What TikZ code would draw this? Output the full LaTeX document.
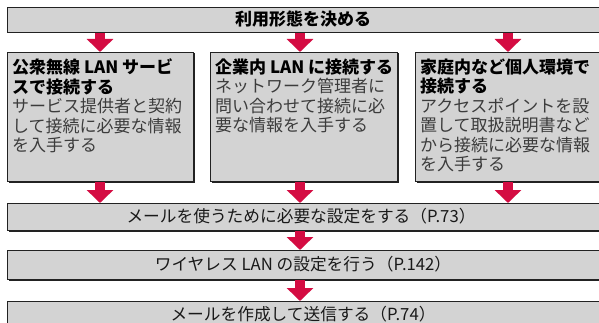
\documentclass[tikz,border=0pt]{standalone}
\usepackage{fontspec}
\newfontfamily\jp{Noto Sans CJK JP}
\usetikzlibrary{arrows.meta}
\definecolor{boxfill}{HTML}{D3D3D3}
\definecolor{boxline}{HTML}{222222}
\definecolor{arrowred}{HTML}{D40C42}
\definecolor{bodygray}{HTML}{3C3C3C}
\tikzset{
  panel/.style={draw=boxline, line width=1.1pt, fill=boxfill, inner sep=0pt, anchor=north west},
  shadowbox/.style={fill=boxline},
  flowarrow/.style={draw=arrowred, line width=10pt, line cap=butt, -{Triangle[width=26pt,length=13pt]}},
  headtxt/.style={font=\jp\bfseries\fontsize{17}{19.5}\selectfont, text=black},
  steptxt/.style={font=\jp\fontsize{16.7}{19}\selectfont, text=black!90},
  bodytxt/.style={anchor=north west, align=left, inner sep=0pt, font=\jp\fontsize{17}{19.5}\selectfont, text=bodygray}
}
\begin{document}
\begin{tikzpicture}[x=1pt,y=-1pt]
\useasboundingbox (0,0) rectangle (599,323);
\clip (0,0) rectangle (599,323);
% shadows
\fill[shadowbox] (8.5,8.5) rectangle (625,33.5);
\fill[shadowbox] (8.5,53.5) rectangle (194.5,182.5);
\fill[shadowbox] (211.5,53.5) rectangle (398.5,182.5);
\fill[shadowbox] (416.5,53.5) rectangle (625,182.5);
\fill[shadowbox] (8.5,204.5) rectangle (625,231.5);
\fill[shadowbox] (8.5,251.5) rectangle (625,280.5);
\fill[shadowbox] (8.5,302.5) rectangle (625,335);
% boxes
\node[panel, minimum width=613pt, minimum height=25pt] (top) at (7,7) {};
\node[panel, minimum width=186pt, minimum height=129pt] (b1) at (7,52) {};
\node[panel, minimum width=187pt, minimum height=129pt] (b2) at (210,52) {};
\node[panel, minimum width=205pt, minimum height=129pt] (b3) at (415,52) {};
\node[panel, minimum width=613pt, minimum height=27pt] (s1) at (7,203) {};
\node[panel, minimum width=613pt, minimum height=29pt] (s2) at (7,250) {};
\node[panel, minimum width=613pt, minimum height=30pt] (s3) at (7,301) {};
% texts
\node[headtxt] (ttop) at (303,19.5) {利用形態を決める};
\node[bodytxt] (t1) at (12,58.5) {{\bfseries\color{black}公衆無線 LAN サービ}\\{\bfseries\color{black}スで接続する}\\サービス提供者と契約\\して接続に必要な情報\\を入手する};
\node[bodytxt] (t2) at (215,58.5) {{\bfseries\color{black}企業内 LAN に接続する}\\ネットワーク管理者に\\問い合わせて接続に必\\要な情報を入手する};
\node[bodytxt] (t3) at (420,58.5) {{\bfseries\color{black}家庭内など個人環境で}\\{\bfseries\color{black}接続する}\\アクセスポイントを設\\置して取扱説明書など\\から接続に必要な情報\\を入手する};
\node[steptxt] (ts1) at (301,216.5) {メールを使うために必要な設定をする（P.73）};
\node[steptxt] (ts2) at (303,264.5) {ワイヤレス LAN の設定を行う（P.142）};
\node[steptxt] (ts3) at (303,314) {メールを作成して送信する（P.74）};
% arrows
\coordinate (xa) at (100,0);
\coordinate (xb) at (300,0);
\coordinate (xc) at (508,0);
\draw[flowarrow] (top.south -| xa) -- (b1.north -| xa);
\draw[flowarrow] (top.south -| xb) -- (b2.north -| xb);
\draw[flowarrow] (top.south -| xc) -- (b3.north -| xc);
\draw[flowarrow] (b1.south -| xa) -- (s1.north -| xa);
\draw[flowarrow] (b2.south -| xb) -- (s1.north -| xb);
\draw[flowarrow] (b3.south -| xc) -- (s1.north -| xc);
\draw[flowarrow] (s1.south -| xb) -- (s2.north -| xb);
\draw[flowarrow] (s2.south -| xb) -- (s3.north -| xb);
\end{tikzpicture}
\end{document}
